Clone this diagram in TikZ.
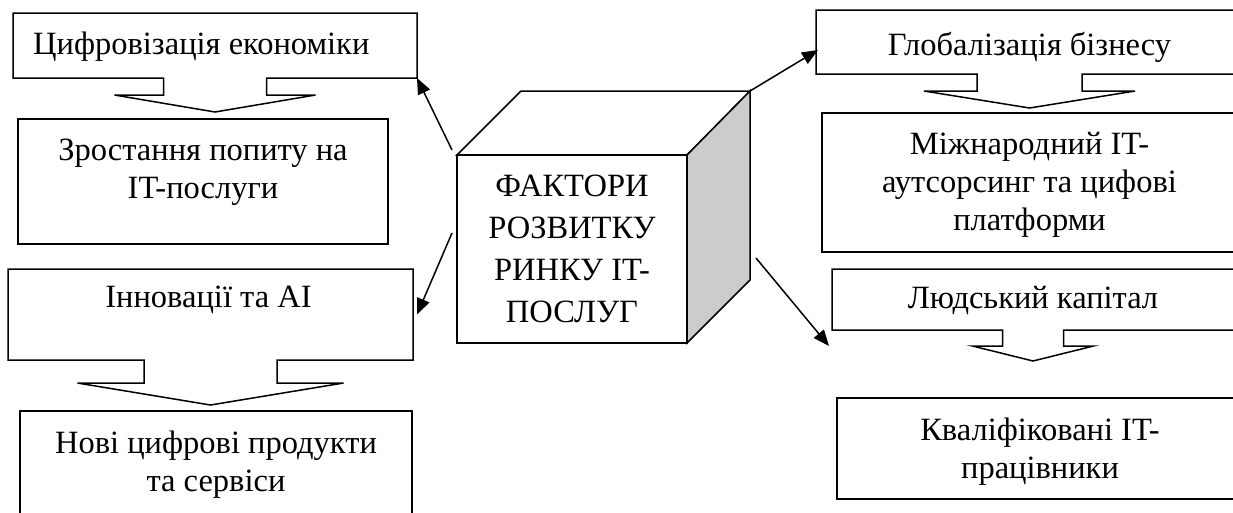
\documentclass[tikz,border=0pt]{standalone}
\usepackage{fontspec}
\setmainfont{Liberation Serif}
\usetikzlibrary{positioning,calc,arrows.meta}

\begin{document}
\begin{tikzpicture}[x=1pt,y=-1pt,
	box/.style={line width=1.5pt, inner sep=0pt, outer sep=0pt},
	frame/.style={box, draw},
	txt/.style={font=\fontsize{32.5}{38}\selectfont, align=center, inner sep=0pt},
	arr/.style={line width=1.5pt, -{Triangle[length=16pt,width=13pt]}}]
	\useasboundingbox (0,0) rectangle (1233,512);
	\clip (0,0) rectangle (1233,512);
	% left column
	\node[box, minimum width=404, minimum height=65, anchor=north west] (b1) at (13,13) {};
	\node[frame, minimum width=370, minimum height=125, anchor=north west] (b2) at (18,119) {};
	\node[box, minimum width=405, minimum height=91, anchor=north west] (b3) at (8,269) {};
	\node[frame, minimum width=392, minimum height=125, anchor=north west] (b4) at (20,411) {};
	\node[txt, below right=19pt and 20pt of b1.north west] (t1) {Цифровізація економіки};
	\node[txt, below=20pt of b2.north] (t2) {Зростання попиту на\\IT-послуги};
	\node[txt, below=17pt of b3.north, xshift=-2pt] (t3) {Інновації та AI};
	\node[txt, below=20pt of b4.north] (t4) {Нові цифрові продукти\\та сервіси};
	\draw[box] (b1.south west) -- (b1.north west) -- (b1.north east) -- (b1.south east)
		-- ($(b1.south)+(51.5,0)$) -- ++(0,17) -- ++(49,0) -- ($(b1.south)+(0,34)$)
		-- ++(-100.5,-17) -- ++(49,0) -- ++(0,-17) -- cycle;
	\draw[box] (b3.south west) -- (b3.north west) -- (b3.north east) -- (b3.south east)
		-- ($(b3.south)+(66.5,0)$) -- ++(0,23) -- ++(66.5,0) -- ($(b3.south)+(0,45)$)
		-- ++(-133,-22) -- ++(66.5,0) -- ++(0,-23) -- cycle;
	% right column
	\node[box, minimum width=427, minimum height=64, anchor=north west] (b5) at (816,10) {};
	\node[frame, minimum width=415, minimum height=139, anchor=north west] (b6) at (822,113) {};
	\node[box, minimum width=402, minimum height=61, anchor=north west] (b7) at (832,269) {};
	\node[frame, minimum width=406, minimum height=101, anchor=north west] (b8) at (837,398) {};
	\node[txt, below=22pt of b5.north] (t5) {Глобалізація бізнесу};
	\node[txt, below=19pt of b6.north] (t6) {Міжнародний IT-\\аутсорсинг та цифові\\платформи};
	\node[txt, below=17pt of b7.north] (t7) {Людський капітал};
	\node[txt, below=20pt of b8.north] (t8) {Кваліфіковані IT-\\працівники};
	\draw[box] (b5.south west) -- (b5.north west) -- (b5.north east) -- (b5.south east)
		-- ($(b5.south)+(52.5,0)$) -- ++(0,17) -- ++(53,0) -- ($(b5.south)+(0,34)$)
		-- ++(-105.5,-17) -- ++(53,0) -- ++(0,-17) -- cycle;
	\draw[box] (b7.south west) -- (b7.north west) -- (b7.north east) -- (b7.south east)
		-- ($(b7.south)+(30.5,0)$) -- ++(0,16) -- ++(30,0) -- ($(b7.south)+(0,31)$)
		-- ++(-60.5,-15) -- ++(30,0) -- ++(0,-16) -- cycle;
	% cube
	\node[frame, minimum width=230, minimum height=188, anchor=north west,
		font=\fontsize{32.5}{42}\selectfont, align=center] (cube) at (457,155)
		{ФАКТОРИ\\РОЗВИТКУ\\РИНКУ IT-\\ПОСЛУГ};
	\coordinate (ctl) at (521,91);
	\coordinate (ctr) at (750,91);
	\coordinate (cbr) at (750,280);
	\draw[frame] (cube.north west) -- (ctl) -- (ctr) -- (cube.north east) -- cycle;
	\filldraw[frame, fill=black!20] (cube.north east) -- (ctr) -- (cbr) -- (cube.south east) -- cycle;
	% arrows
	\coordinate (pull) at (829,346);
	\draw[arr] ([shift={(-5,-5)}]cube.north west) -- (b1.south east);
	\draw[arr] ([shift={(-5,-16)}]cube.west) -- ([shift={(4,0)}]b3.east);
	\draw[arr] (ctr) -- ([shift={(2,8)}]b5.west);
	\draw[arr] ([shift={(6,-22)}]cbr) -- (pull);
\end{tikzpicture}
\end{document}
